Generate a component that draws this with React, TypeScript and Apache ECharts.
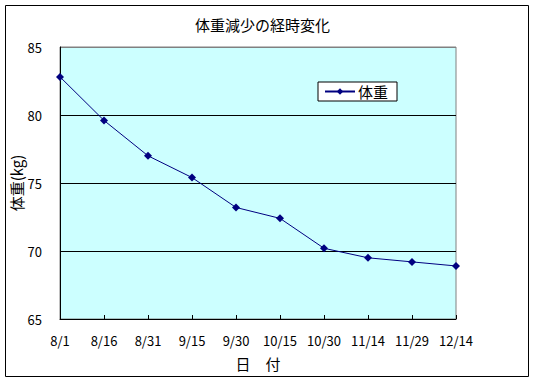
import React, { useEffect, useRef } from "react";
import * as echarts from "echarts";

const dates = ["8/1", "8/16", "8/31", "9/15", "9/30", "10/15", "10/30", "11/14", "11/29", "12/14"];
const weights = [82.8, 79.6, 77.0, 75.4, 73.2, 72.4, 70.2, 69.5, 69.2, 68.9];
const seriesName = "体重";
const titleText = "体重減少の経時変化";
const xName = "日　付";
const yName = "体重(kg)";

const FONT = "'Noto Sans CJK JP', sans-serif";

export default function App() {
  const ref = useRef<HTMLDivElement>(null);
  useEffect(() => {
    document.body.style.margin = "0";
    const chart = echarts.init(ref.current!, undefined, { renderer: "svg" });
    chart.setOption({
      animation: false,
      backgroundColor: "#ffffff",
      textStyle: { fontFamily: FONT },
      title: {
        text: titleText,
        left: 190,
        top: 12,
        textStyle: { fontSize: 15, fontWeight: "normal", color: "#000", fontFamily: FONT },
      },
      graphic: [
        {
          type: "rect",
          shape: { x: 5.5, y: 5.5, width: 523, height: 371 },
          style: { fill: "none", stroke: "#000", lineWidth: 1 },
          silent: true,
        },
      ],
      legend: {
        left: 318,
        top: 82,
        itemWidth: 30,
        itemHeight: 8,
        itemGap: 4,
        padding: [2, 9, 2, 6],
        borderColor: "#000",
        borderWidth: 1,
        backgroundColor: "#ffffff",
        textStyle: { fontSize: 15, color: "#000", fontFamily: FONT, padding: [0, 0, 0, -2] },
        data: [seriesName],
      },
      grid: {
        left: 60,
        right: 78,
        top: 47,
        bottom: 64,
        show: true,
        containLabel: false,
        outerBoundsMode: "none",
        backgroundColor: "#CCFFFF",
        borderColor: "#808080",
        borderWidth: 1,
      },
      xAxis: {
        type: "category",
        data: dates,
        boundaryGap: false,
        name: xName,
        nameLocation: "middle",
        nameGap: 37,
        nameMoveOverlap: false,
        nameTextStyle: { fontSize: 15, color: "#000", fontFamily: FONT },
        axisLine: { lineStyle: { color: "#000", width: 1 } },
        axisTick: { show: true, inside: true, length: 4, interval: 0, lineStyle: { color: "#000" } },
        axisLabel: { fontSize: 13, color: "#000", margin: 15, interval: 0, fontFamily: FONT },
        splitLine: { show: false },
      },
      yAxis: {
        type: "value",
        min: 65,
        max: 85,
        interval: 5,
        name: yName,
        nameLocation: "middle",
        nameRotate: 90,
        nameGap: 36,
        nameMoveOverlap: false,
        nameTextStyle: { fontSize: 15, color: "#000", fontFamily: FONT },
        axisLine: { show: true, lineStyle: { color: "#000", width: 1 } },
        axisTick: { show: false },
        axisLabel: { fontSize: 13, color: "#000", margin: 18, fontFamily: FONT },
        splitLine: {
          show: true,
          lineStyle: { color: ["#000", "#000", "#000", "#000", "#808080"], width: 1 },
        },
      },
      series: [
        {
          name: seriesName,
          type: "line",
          data: weights,
          symbol: "diamond",
          symbolSize: 8,
          itemStyle: { color: "#000080" },
          lineStyle: { color: "#000080", width: 1 },
        },
      ],
    });
    return () => chart.dispose();
  }, []);
  return <div ref={ref} style={{ width: 534, height: 383 }} />;
}
